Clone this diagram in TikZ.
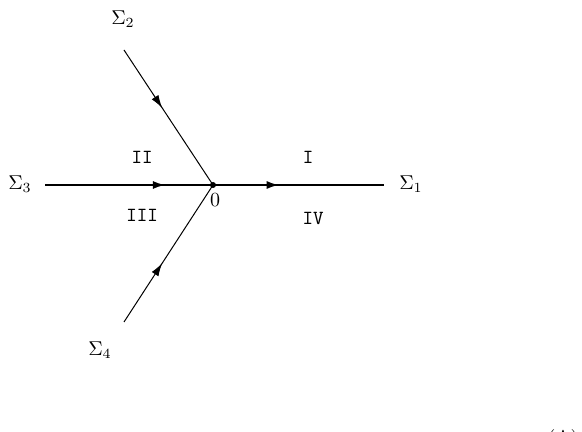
\documentclass[tikz,border=0pt]{standalone}
\usepackage{amsmath}
\usetikzlibrary{arrows.meta,decorations.markings}
\tikzset{
  midarrow/.style={postaction={decorate,decoration={markings,
      mark=at position #1 with {\arrow{Latex[length=6.5pt,width=4pt]}}}}},
  ray/.style={line width=0.5pt},
  axis/.style={line width=1.4pt},
  region/.style={font=\ttfamily}
}
\begin{document}
\begin{tikzpicture}[x=0.5pt,y=-0.5pt]
	\useasboundingbox (0,0) rectangle (582,432);
	% end points of the four rays
	\coordinate (O) at (213,185);
	\coordinate (e1) at (384,185);
	\coordinate (e2) at (124,50);
	\coordinate (e3) at (45,185);
	\coordinate (e4) at (124,322);
	\draw[ray,midarrow=0.43] (e2)--(O);
	\draw[ray,midarrow=0.43] (e4)--(O);
	\draw[axis,midarrow=0.72] (e3)--(O);
	\draw[axis,midarrow=0.39] (O)--(e1);
	\fill (O) circle (1.5pt);
	% labels
	\node (s1) at (411,184) {$\Sigma_1$};
	\node (s2) at (123,19) {$\Sigma_2$};
	\node (s3) at (20,184) {$\Sigma_3$};
	\node (s4) at (100,350) {$\Sigma_4$};
	\node (zero) at (215,200) {$0$};
	\foreach \t/\x/\y in {I/308/157,II/142/157,III/142/215,IV/313/218}
		{\node[region] (r\t) at (\x,\y) {\t};}
	\node (fig) at (563,439) {(A)};
\end{tikzpicture}
\end{document}
